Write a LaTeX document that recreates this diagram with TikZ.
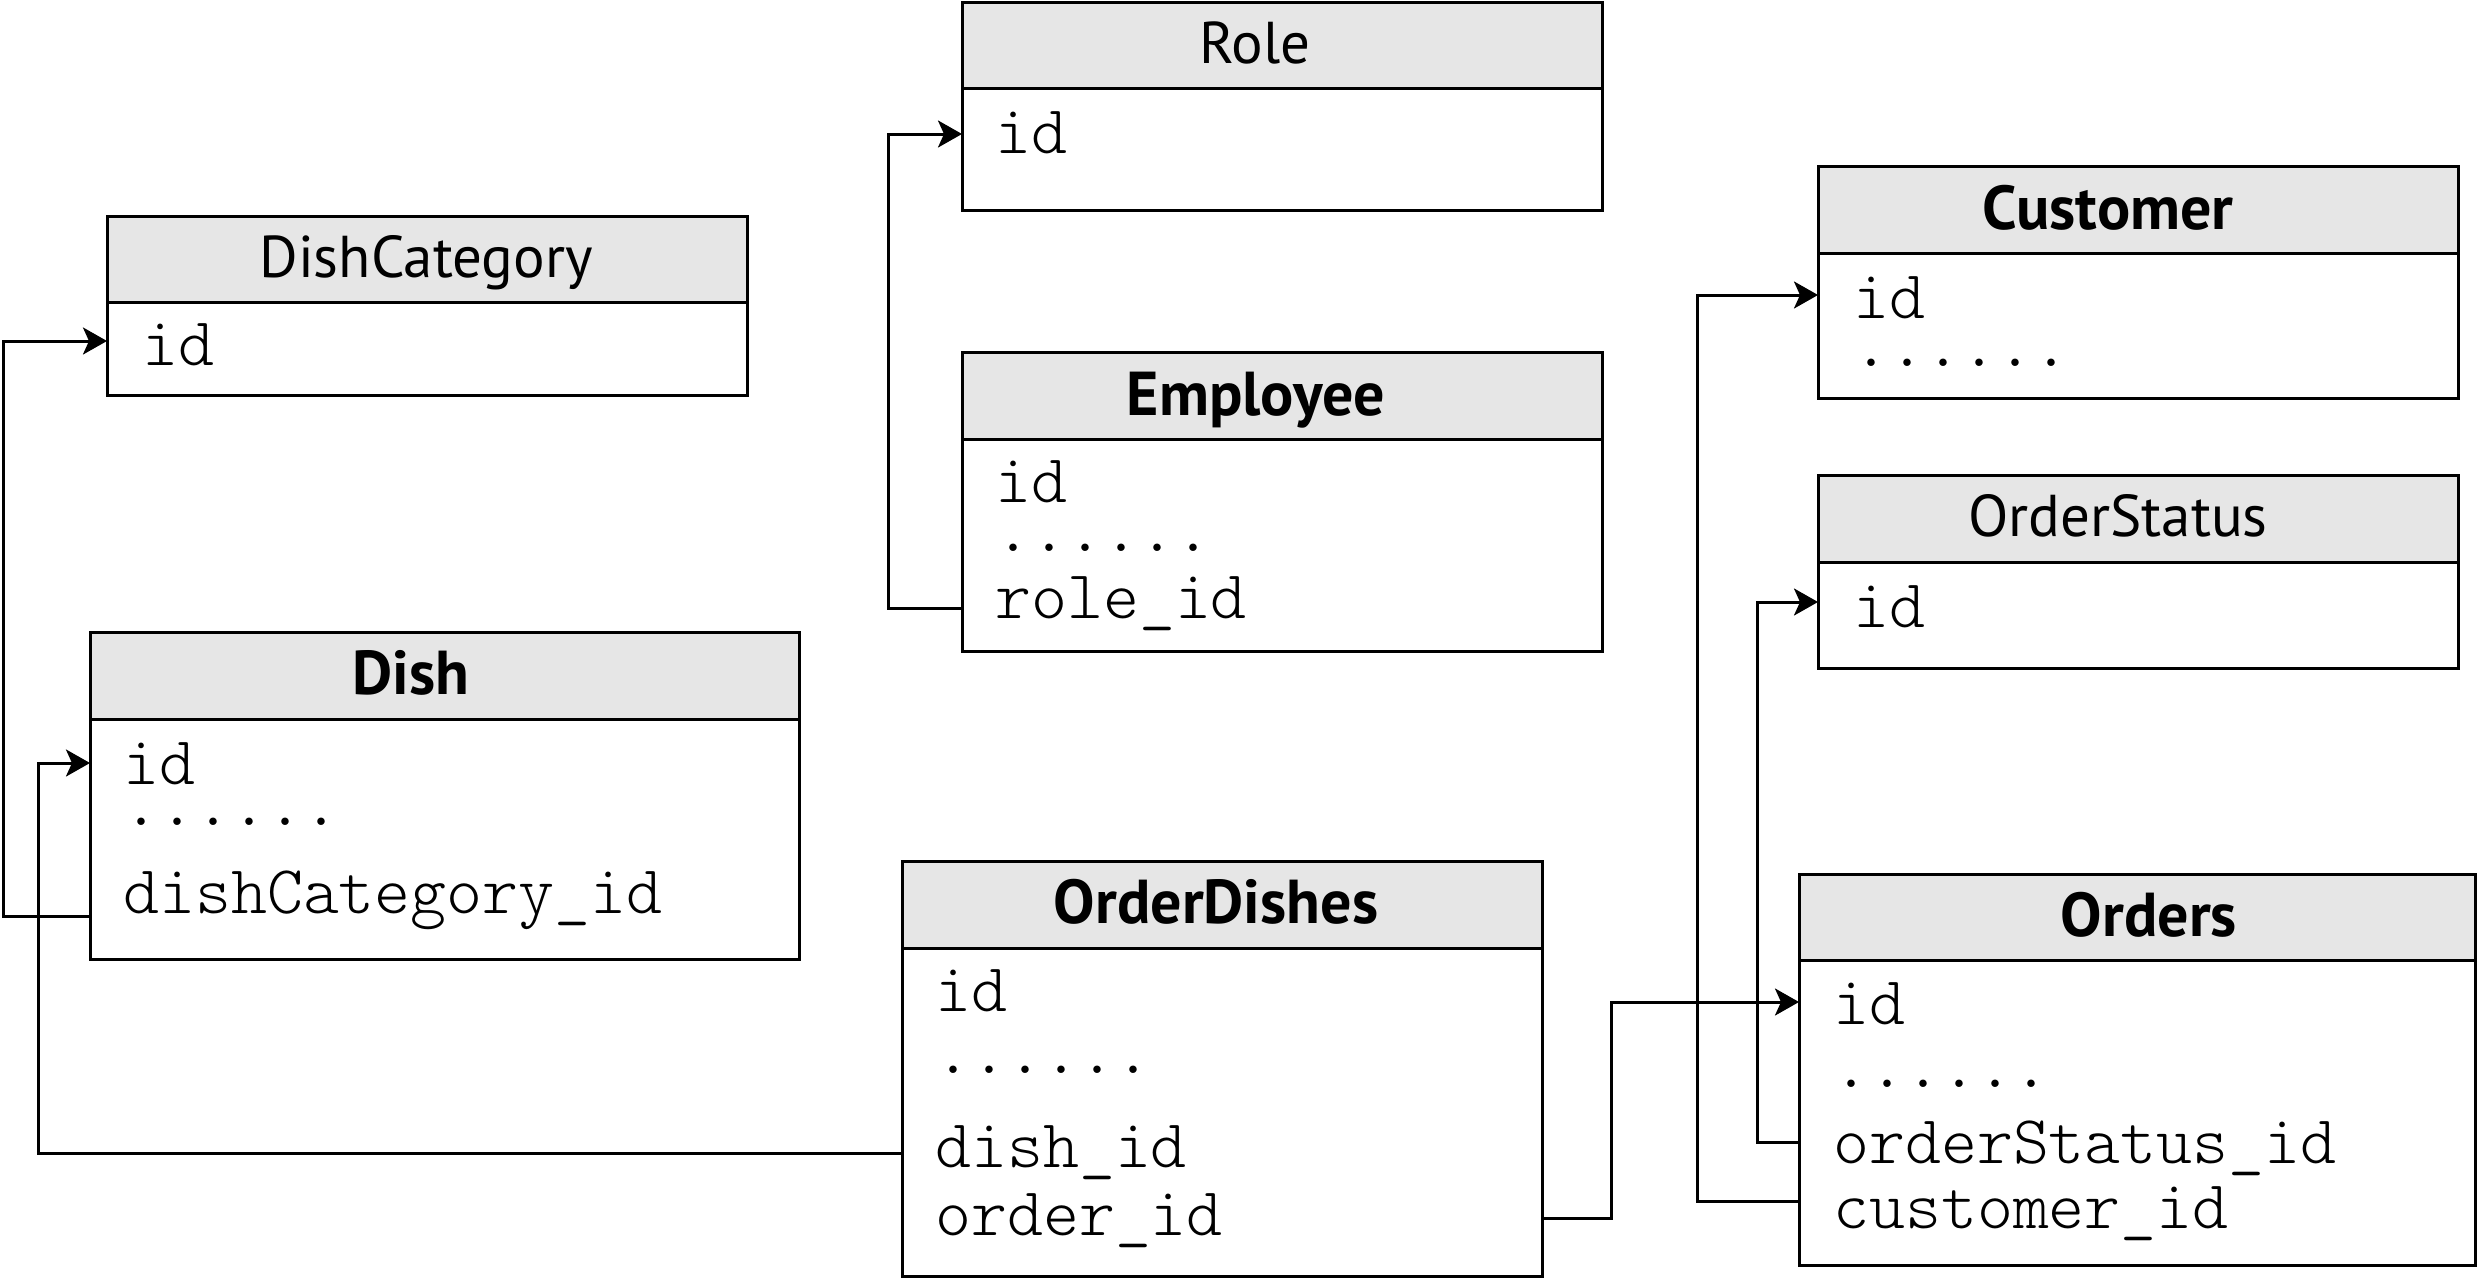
\documentclass[tikz,border=0pt]{standalone}
\usepackage{fontspec}
\setsansfont{PT Sans}
\usetikzlibrary{arrows.meta}
\definecolor{hdr}{HTML}{E6E6E6}
\tikzset{
  box/.style={draw, line width=3pt, inner sep=0pt, outer sep=0pt, anchor=north west},
  head/.style={box, fill=hdr},
  ttl/.style={anchor=base, inner sep=0pt, font=\fontsize{59}{70}\selectfont\sffamily},
  ttlb/.style={anchor=base, inner sep=0pt, font=\fontsize{62}{72}\selectfont\sffamily\bfseries},
  fld/.style={anchor=base west, inner sep=0pt, font=\fontsize{68.5}{80}\selectfont\ttfamily\fontseries{l}\selectfont},
  conn/.style={line width=3pt},
  arr/.style={conn, -{Stealth[length=24pt,width=27pt,inset=6pt]}},
}
\begin{document}
\begin{tikzpicture}[x=1pt,y=-1pt]
\useasboundingbox (0,0) rectangle (2477,1280);

% ---------- Role ----------
\node[head, minimum width=640pt, minimum height=86pt] (role-h) at (962,2) {};
\node[box, minimum width=640pt, minimum height=208pt] (role) at (962,2) {};
\node[ttl] (role-t) at (1255,63) {Role};
\node[fld] (role-f1) at (995,153) {id};
\coordinate (role-r1) at (962,134);

% ---------- Employee ----------
\node[head, minimum width=640pt, minimum height=87pt] (emp-h) at (962,352) {};
\node[box, minimum width=640pt, minimum height=299pt] (emp) at (962,352) {};
\node[ttlb] (emp-t) at (1256,415) {Employee};
\node[fld] (emp-f1) at (995,502) {id};
\node[fld] (emp-f2) at (995,551) {......};
\node[fld] (emp-f3) at (995,618) {role\_id};
\coordinate (emp-r3) at (962,608);

% ---------- DishCategory ----------
\node[head, minimum width=640pt, minimum height=86pt] (dc-h) at (107,216) {};
\node[box, minimum width=640pt, minimum height=179pt] (dc) at (107,216) {};
\node[ttl] (dc-t) at (426,277) {DishCategory};
\node[fld] (dc-f1) at (142,365) {id};
\coordinate (dc-r1) at (107,341);

% ---------- Dish ----------
\node[head, minimum width=709pt, minimum height=87pt] (dish-h) at (90,632) {};
\node[box, minimum width=709pt, minimum height=327pt] (dish) at (90,632) {};
\node[ttlb] (dish-t) at (411,694) {Dish};
\node[fld] (dish-f1) at (123,784) {id};
\node[fld] (dish-f2) at (123,825) {......};
\node[fld] (dish-f3) at (123,913) {dishCategory\_id};
\coordinate (dish-r1) at (90,763);
\coordinate (dish-r3) at (90,916);

% ---------- OrderDishes ----------
\node[head, minimum width=640pt, minimum height=87pt] (od-h) at (902,861) {};
\node[box, minimum width=640pt, minimum height=415pt] (od) at (902,861) {};
\node[ttlb] (od-t) at (1216,923) {OrderDishes};
\node[fld] (od-f1) at (935,1011) {id};
\node[fld] (od-f2) at (935,1073) {......};
\node[fld] (od-f3) at (935,1167) {dish\_id};
\node[fld] (od-f4) at (935,1235) {order\_id};
\coordinate (od-r3) at (902,1153);
\coordinate (od-r4) at (1542,1218);

% ---------- Customer ----------
\node[head, minimum width=640pt, minimum height=87pt] (cu-h) at (1818,166) {};
\node[box, minimum width=640pt, minimum height=232pt] (cu) at (1818,166) {};
\node[ttlb] (cu-t) at (2108,229) {Customer};
\node[fld] (cu-f1) at (1853,318) {id};
\node[fld] (cu-f2) at (1853,366) {......};
\coordinate (cu-r1) at (1818,295);

% ---------- OrderStatus ----------
\node[head, minimum width=640pt, minimum height=87pt] (os-h) at (1818,475) {};
\node[box, minimum width=640pt, minimum height=193pt] (os) at (1818,475) {};
\node[ttl] (os-t) at (2118,536) {OrderStatus};
\node[fld] (os-f1) at (1853,627) {id};
\coordinate (os-r1) at (1818,602);

% ---------- Orders ----------
\node[head, minimum width=676pt, minimum height=86pt] (or-h) at (1799,874) {};
\node[box, minimum width=676pt, minimum height=391pt] (or) at (1799,874) {};
\node[ttlb] (or-t) at (2149,936) {Orders};
\node[fld] (or-f1) at (1833,1024) {id};
\node[fld] (or-f2) at (1833,1087) {......};
\node[fld] (or-f3) at (1833,1163) {orderStatus\_id};
\node[fld] (or-f4) at (1833,1228) {customer\_id};
\coordinate (or-r1) at (1799,1002);
\coordinate (or-r3) at (1799,1142);
\coordinate (or-r4) at (1799,1201);

% ---------- bus lines ----------
\coordinate (busRole) at (888,0);
\coordinate (busDC) at (3,0);
\coordinate (busDish) at (38,0);
\coordinate (busOrd) at (1611,0);
\coordinate (busCu) at (1697,0);
\coordinate (busOS) at (1757,0);

% ---------- connectors ----------
\draw[arr] (emp-r3) -- (busRole |- emp-r3) -- (busRole |- role-r1) -- (role-r1);
\draw[arr] (dish-r3) -- (busDC |- dish-r3) -- (busDC |- dc-r1) -- (dc-r1);
\draw[arr] (od-r3) -- (busDish |- od-r3) -- (busDish |- dish-r1) -- (dish-r1);
\draw[arr] (od-r4) -- (busOrd |- od-r4) -- (busOrd |- or-r1) -- (or-r1);
\draw[arr] (or-r4) -- (busCu |- or-r4) -- (busCu |- cu-r1) -- (cu-r1);
\draw[arr] (or-r3) -- (busOS |- or-r3) -- (busOS |- os-r1) -- (os-r1);
\end{tikzpicture}
\end{document}
